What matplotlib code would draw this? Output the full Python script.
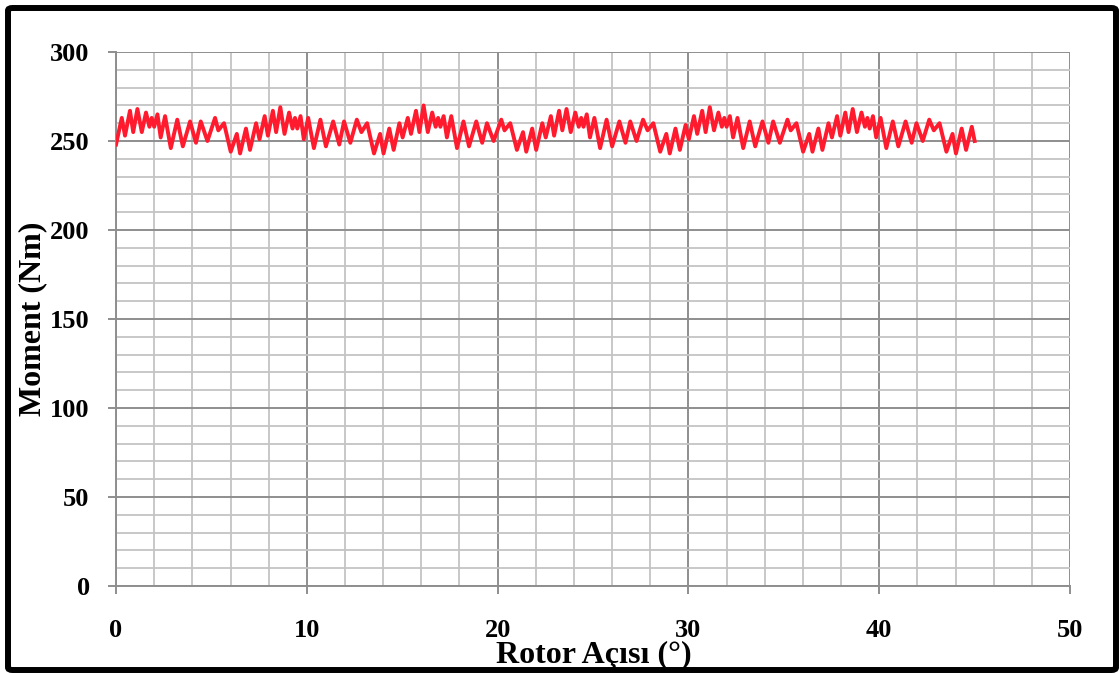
import matplotlib
matplotlib.use('Agg')
import matplotlib.pyplot as plt
import matplotlib.patches as patches
from matplotlib.ticker import MultipleLocator

# rotor angle (deg) and torque (Nm), read at the ripple peaks/troughs
angle = [
    0.00, 0.30, 0.47, 0.73, 0.90, 1.12, 1.35, 1.57, 1.75, 1.87, 2.00, 2.17, 2.34, 2.57, 2.87,
    3.21, 3.50, 3.88, 4.19, 4.44, 4.79, 5.19, 5.36, 5.66, 6.01, 6.33, 6.50, 6.81, 7.02, 7.34,
    7.52, 7.79, 7.96, 8.22, 8.39, 8.61, 8.83, 9.07, 9.25, 9.38, 9.50, 9.67, 9.84, 10.07, 10.37,
    10.71, 11.00, 11.38, 11.70, 11.95, 12.28, 12.62, 12.86, 13.16, 13.52, 13.84, 14.02, 14.32, 14.55, 14.85,
    15.02, 15.29, 15.46, 15.72, 15.90, 16.12, 16.34, 16.57, 16.75, 16.88, 17.00, 17.17, 17.34, 17.57, 17.87,
    18.21, 18.50, 18.88, 19.19, 19.44, 19.79, 20.19, 20.36, 20.66, 21.01, 21.33, 21.50, 21.81, 22.02, 22.34,
    22.52, 22.79, 22.96, 23.22, 23.39, 23.61, 23.83, 24.07, 24.25, 24.38, 24.50, 24.67, 24.84, 25.07, 25.37,
    25.71, 26.00, 26.38, 26.70, 26.95, 27.28, 27.62, 27.86, 28.16, 28.52, 28.84, 29.02, 29.32, 29.55, 29.85,
    30.02, 30.29, 30.46, 30.72, 30.90, 31.12, 31.34, 31.57, 31.75, 31.88, 32.00, 32.17, 32.34, 32.57, 32.87,
    33.21, 33.50, 33.88, 34.19, 34.44, 34.79, 35.19, 35.36, 35.66, 36.01, 36.33, 36.50, 36.81, 37.02, 37.34,
    37.52, 37.79, 37.96, 38.22, 38.39, 38.61, 38.83, 39.07, 39.25, 39.38, 39.50, 39.67, 39.84, 40.07, 40.37,
    40.71, 41.00, 41.38, 41.70, 41.95, 42.28, 42.62, 42.86, 43.16, 43.52, 43.84, 44.02, 44.32, 44.55, 44.85,
    45.00,
]
moment = [
    248, 263, 253, 267, 255, 268, 255, 266, 258, 263, 258, 265, 252, 264, 246,
    262, 247, 261, 249, 261, 250, 263, 256, 260, 244, 254, 243, 257, 245, 260,
    251, 264, 253, 267, 255, 269, 254, 266, 257, 263, 257, 264, 251, 263, 246,
    262, 247, 261, 248, 261, 249, 262, 255, 260, 243, 254, 243, 257, 245, 260,
    252, 263, 254, 267, 255, 270, 255, 266, 258, 263, 258, 264, 252, 264, 246,
    261, 247, 261, 249, 260, 250, 262, 256, 260, 245, 255, 244, 257, 245, 260,
    252, 264, 253, 267, 256, 268, 255, 266, 258, 263, 258, 265, 252, 263, 246,
    262, 247, 261, 249, 261, 250, 262, 256, 260, 244, 254, 243, 257, 245, 259,
    251, 264, 254, 267, 255, 269, 256, 266, 258, 263, 258, 264, 252, 263, 246,
    261, 247, 261, 249, 261, 249, 262, 256, 260, 244, 254, 244, 257, 245, 260,
    252, 264, 253, 266, 255, 268, 255, 266, 258, 263, 257, 264, 252, 263, 246,
    261, 247, 261, 249, 260, 250, 262, 256, 260, 244, 254, 243, 257, 245, 258,
    250,
]

x_ticks = [0, 10, 20, 30, 40, 50]
y_ticks = [0, 50, 100, 150, 200, 250, 300]

plt.rcParams['font.family'] = ['Liberation Serif', 'DejaVu Serif']
plt.rcParams['font.weight'] = 'bold'

fig = plt.figure(figsize=(11.2, 6.73), dpi=100)
ax = fig.add_axes([0.1036, 0.1293, 0.8518, 0.7934])

ax.plot(angle, moment, color='#FF1A2E', linewidth=2.8, solid_joinstyle='round', zorder=3)

ax.set_xlim(0, 50)
ax.set_ylim(0, 300)
ax.set_xticks(x_ticks)
ax.set_yticks(y_ticks)
ax.xaxis.set_minor_locator(MultipleLocator(2))
ax.yaxis.set_minor_locator(MultipleLocator(10))
ax.grid(which='minor', color='#C4C4C4', linewidth=1.3, zorder=0)
ax.grid(which='major', color='#8E8E8E', linewidth=1.4, zorder=1)
ax.set_axisbelow(True)

for s in ['top', 'right']:
    ax.spines[s].set_visible(False)
for s in ['left', 'bottom']:
    ax.spines[s].set_color('#8E8E8E')
    ax.spines[s].set_linewidth(1.4)

ax.tick_params(which='major', direction='out', length=6, width=1.4, color='#8E8E8E',
               labelsize=19)
ax.tick_params(axis='x', which='major', pad=18)
ax.tick_params(axis='y', which='major', pad=13)
ax.tick_params(which='minor', length=0)
for lab in ax.get_xticklabels() + ax.get_yticklabels():
    lab.set_fontweight('bold')

ax.set_xlabel('Rotor Açısı (°)', fontsize=23, fontweight='bold', va='center')
ax.set_ylabel('Moment (Nm)', fontsize=23, fontweight='bold', va='center')
ax.xaxis.set_label_coords(0.5005, -0.131)
ax.yaxis.set_label_coords(-0.087, 0.5)

# outer frame around the chart
fig.patches.append(patches.FancyBboxPatch((8 / 1120, 3 / 673), 1108 / 1120, 662 / 673,
                                          boxstyle='round,pad=0,rounding_size=0.004',
                                          transform=fig.transFigure, fill=False,
                                          edgecolor='black', linewidth=4.3))

plt.savefig('out.png', dpi=100)
